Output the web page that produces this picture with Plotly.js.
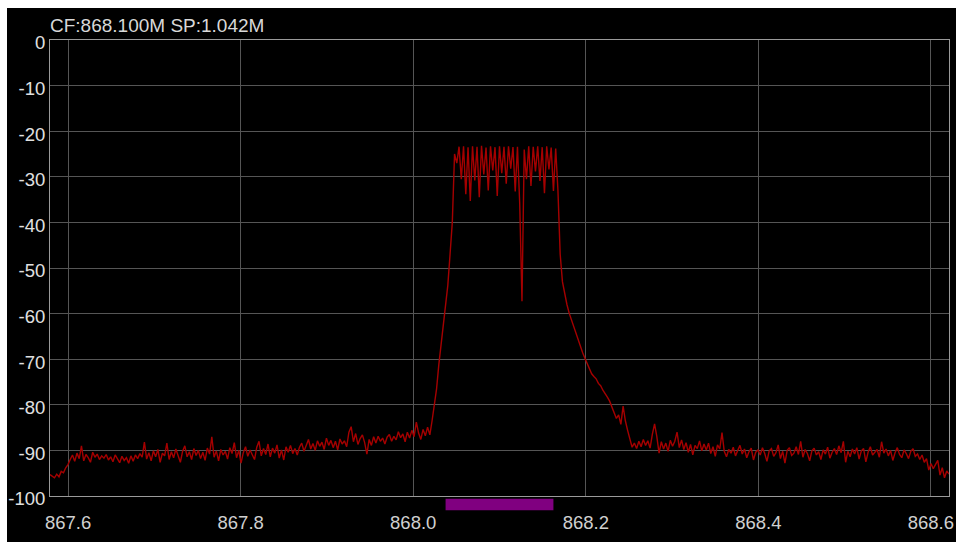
<!DOCTYPE html>
<html>
<head>
<meta charset="utf-8">
<script src="https://cdn.plot.ly/plotly-3.0.1.min.js"></script>
<style>
  html, body { margin: 0; padding: 0; background: #ffffff; width: 956px; height: 543px; overflow: hidden; }
  #chart { position: absolute; left: 7px; top: 8px; width: 949px; height: 534px; }
</style>
</head>
<body>
<div id="chart"></div>
<script>
// Spectrum settings (MHz)
const centerFreq = 868.100;
const span = 1.042;
const titleText = "CF:868.100M SP:1.042M";

// Channel band marker (MHz)
const bandStart = 868.0375;
const bandEnd = 868.1625;

// Axis ticks
const xTicks = [867.6, 867.8, 868.0, 868.2, 868.4, 868.6];
const xTickLabels = ["867.6", "867.8", "868.0", "868.2", "868.4", "868.6"];
const yTicks = [0, -10, -20, -30, -40, -50, -60, -70, -80, -90, -100];
const yTickLabels = ["0", "-10", "-20", "-30", "-40", "-50", "-60", "-70", "-80", "-90", "-100"];

// Power levels (dBm), left to right, equally spaced bins
const edgeLeft = [-95.3,-95.6,-96.0,-95.2,-95.8,-94.6,-94.9,-93.8,-93.1];
const floorLeft1 = [
  -92.0,-91.0,-92.4,-90.6,-91.8,-89.0,-92.3,-90.9,-91.6,-92.6,
  -90.4,-91.5,-90.8,-92.0,-91.2,-91.7,-90.9,-92.1,-91.4,-92.5,
  -91.0,-91.9,-92.7,-91.3,-92.2,-91.6,-92.8,-91.2,-92.4,-91.0,
  -91.8,-90.7,-91.5,-88.2,-91.9,-90.5,-92.3,-90.1,-91.4,-89.8,
  -92.6,-90.6,-91.2,-88.4,-92.0,-90.3,-91.6,-89.7];
const floorLeft2 = [
  -91.0,-92.6,-90.2,-89.0,-91.4,-90.3,-92.0,-89.6,-91.1,-90.0,
  -91.8,-90.4,-92.2,-89.5,-90.8,-87.0,-91.5,-90.1,-92.3,-89.8,
  -91.0,-90.2,-91.9,-89.4,-90.7,-88.3,-91.6,-90.0,-92.8,-90.5,
  -89.2,-91.3,-89.9,-90.8,-92.0,-89.3,-88.0,-91.2,-89.6,-90.9,
  -88.6,-91.4,-89.5,-90.6,-88.8,-91.7,-89.9,-92.1,-89.2,-90.4,
  -88.9,-90.7,-89.6,-91.0,-89.3];
const floorLeft3 = [
  -88.4,-90.2,-88.9,-87.6,-89.7,-88.5,-90.0,-87.9,-89.1,-88.2,
  -89.8,-87.3,-88.9,-87.8,-89.4,-88.0,-89.9,-87.5,-88.6,-87.9,
  -89.2,-86.0,-84.8,-88.1,-86.3,-88.7,-87.4,-86.6,-88.3,-90.8,
  -87.6,-88.9,-87.0,-88.4,-86.9,-88.0,-87.3,-88.6,-87.1];
const floorLeft4 = [
  -86.5,-88.0,-86.9,-87.7,-85.9,-87.2,-86.4,-88.1,-86.0,-87.3,
  -85.6,-87.0,-83.8,-86.2,-87.6,-85.4,-86.8,-84.9,-86.6];
const riseLeft = [-83.5,-79.8,-76.5,-71.2,-67.0,-62.2,-58.5,-53.8,-47.0,-40.0,-25.0];
const signalTop = [
  -27.0,-23.4,-30.5,-23.3,-33.8,-23.5,-35.3,-23.3,-30.8,-23.4,
  -34.5,-23.2,-29.5,-23.6,-33.0,-23.3,-28.6,-23.5,-34.2,-23.3,
  -29.2,-23.4,-31.5,-23.3,-28.2,-23.5,-33.2,-23.4,-36.0,-57.3,
  -24.0,-30.5,-23.3,-32.0,-23.4,-28.8,-23.3,-30.9,-23.5,-33.6,
  -23.3,-28.4,-23.6,-33.1,-23.8,-33.0];
const fallRight = [
  -47.0,-53.0,-55.8,-58.0,-59.9,-61.4,-62.8,-64.6,-66.0,-67.3,
  -68.6,-69.8,-71.0,-72.2,-73.2,-73.8,-74.3,-75.3,-75.8,-76.8,
  -77.5,-78.3,-79.2,-80.6,-81.8,-83.0,-82.2,-84.3,-80.3,-83.5,
  -85.6,-87.4,-89.3];
const floorRight1 = [
  -88.4,-89.6,-88.0,-89.2,-87.6,-88.9,-87.9,-89.5,-86.5,-84.2,
  -87.0,-90.6,-88.1,-89.7,-88.4,-90.2,-87.8,-89.1,-88.0,-86.0,
  -89.4,-87.7,-89.8,-88.3,-90.4,-88.7,-91.0,-88.9,-89.6,-87.9,
  -90.1,-88.6,-89.9,-88.4,-90.7,-89.2,-91.3,-88.8,-89.7,-86.1,
  -90.2];
const floorRight2 = [
  -91.4,-89.8,-90.6,-89.3,-91.2,-90.0,-88.9,-90.8,-89.7,-91.6,
  -90.3,-89.5,-92.1,-90.4,-89.9,-91.0,-89.4,-90.7,-92.4,-90.1,
  -89.6,-91.3,-90.5,-88.8,-91.8,-90.2,-92.8,-90.0,-89.4,-91.1,
  -90.6,-89.2,-90.9,-88.0,-91.5,-89.8,-90.7,-92.3,-90.1,-89.5,
  -91.0,-90.3,-92.0,-89.9,-90.8,-89.3,-91.7,-90.4,-89.6,-90.9,
  -89.0,-90.5,-88.0,-92.6,-90.2,-91.4,-89.7,-90.8,-89.4,-91.9,
  -90.1,-89.6,-92.5,-90.4,-89.2,-91.0,-90.3,-89.8,-91.5,-88.1,
  -90.6,-89.7,-91.2,-90.0,-92.2,-90.5,-89.4,-90.9,-91.6,-89.9,
  -90.7,-91.8,-90.2,-89.6,-91.3,-90.8,-92.0];
const edgeRight = [-91.0,-92.6,-91.8,-94.3,-92.9,-94.0,-93.1,-92.2,-95.4,-93.8,-96.0,-94.5,-95.2];

const power = [].concat(edgeLeft, floorLeft1, floorLeft2, floorLeft3, floorLeft4,
  riseLeft, signalTop, fallRight, floorRight1, floorRight2, edgeRight);

const fStart = centerFreq - span / 2;
const fEnd = centerFreq + span / 2;
const freq = power.map((_, i) => fStart + i * span / (power.length - 1));

const font = "'Liberation Sans', Arial, sans-serif";

const trace = {
  type: 'scatter',
  mode: 'lines',
  x: freq,
  y: power,
  line: { color: 'rgb(165,0,0)', width: 1.4 },
  hoverinfo: 'skip'
};

const layout = {
  width: 949,
  height: 534,
  paper_bgcolor: '#000000',
  plot_bgcolor: '#000000',
  margin: { l: 43, r: 7, t: 32, b: 46, pad: 0 },
  showlegend: false,
  title: {
    text: titleText,
    x: 0, xref: 'paper', xanchor: 'left',
    y: 0.968, yref: 'container', yanchor: 'middle',
    font: { family: font, size: 19, color: '#d8d8d8' }
  },
  xaxis: {
    range: [fStart, fEnd],
    tickmode: 'array',
    tickvals: xTicks,
    ticktext: xTickLabels,
    showgrid: true,
    gridcolor: '#555555',
    gridwidth: 1,
    zeroline: false,
    showline: true,
    linecolor: '#9a9a9a',
    linewidth: 1,
    mirror: true,
    ticks: 'outside',
    ticklen: 10,
    tickcolor: 'rgba(0,0,0,0)',
    tickfont: { family: font, size: 18.5, color: '#d0d0d0' }
  },
  yaxis: {
    range: [-100, 0],
    tickmode: 'array',
    tickvals: yTicks,
    ticktext: yTickLabels,
    showgrid: true,
    gridcolor: '#555555',
    gridwidth: 1,
    zeroline: false,
    showline: true,
    linecolor: '#9a9a9a',
    linewidth: 1,
    mirror: true,
    ticks: '',
    ticklabelshift: 3,
    tickfont: { family: font, size: 18.5, color: '#e0e0e0' }
  },
  shapes: [{
    type: 'rect',
    xref: 'x', yref: 'paper',
    x0: bandStart, x1: bandEnd,
    y0: -0.031, y1: -0.006,
    fillcolor: '#800080',
    line: { width: 0 },
    layer: 'above'
  }]
};

Plotly.newPlot('chart', [trace], layout, { displayModeBar: false, staticPlot: true });
</script>
</body>
</html>
